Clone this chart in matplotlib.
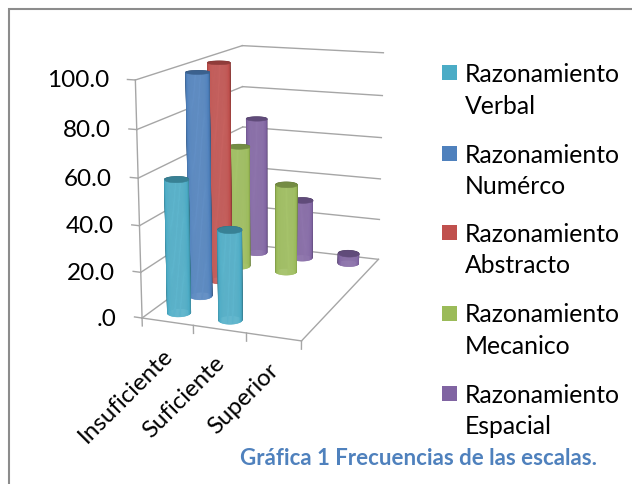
import numpy as np
import matplotlib
matplotlib.use("Agg")
import matplotlib.pyplot as plt
from matplotlib.patches import Rectangle
from mpl_toolkits.mplot3d import proj3d
from mpl_toolkits.mplot3d.art3d import Poly3DCollection

plt.rcParams['font.family'] = ['Lato', 'DejaVu Sans']

categories = ['Insuficiente', 'Suficiente', 'Superior']
series_names = ['Razonamiento\nVerbal', 'Razonamiento\nNumérco', 'Razonamiento\nAbstracto',
                'Razonamiento\nMecanico', 'Razonamiento\nEspacial']
colors = ['#4BACC6', '#4F81BD', '#C0504D', '#9BBB59', '#8064A2']
verbal = [58, 39, 0]
numerico = [99, 0, 0]
abstracto = [100, 0, 0]
mecanico = [58, 42, 0]
espacial = [67, 29, 5]
z_ticks = [0, 20, 40, 60, 80, 100]
z_labels = ['.0', '20.0', '40.0', '60.0', '80.0', '100.0']
caption = 'Gráfica 1 Frecuencias de las escalas.'

ELEV, AZIM = 14, -69
BOX = (159, 252, 226)
W, H = 632, 485


def shaded(color, amount):
    rgb = np.array(matplotlib.colors.to_rgb(color))
    if amount < 0:
        return tuple(rgb * (1 + amount))
    return tuple(rgb + (1 - rgb) * amount)


def cylinder(ax, x, y, h, color, zorder):
    rx = 0.21
    ry = rx * (BOX[0] / 3) / (BOX[1] / 5)
    th = np.linspace(0, 2 * np.pi, 61)
    view = np.radians(AZIM)
    verts, cols = [], []
    for a, b in zip(th[:-1], th[1:]):
        x0, y0 = x + rx * np.cos(a), y + ry * np.sin(a)
        x1, y1 = x + rx * np.cos(b), y + ry * np.sin(b)
        verts.append([(x0, y0, 0), (x1, y1, 0), (x1, y1, h), (x0, y0, h)])
        c = np.cos((a + b) / 2 - view)
        cols.append(shaded(color, 0.1 - 0.42 * (1 - max(c, 0)) ** 2))
    ax.add_collection3d(Poly3DCollection(verts, facecolors=cols, edgecolors=cols,
                                         linewidths=0.4, zorder=zorder))
    cap = [(x + rx * np.cos(a), y + ry * np.sin(a), h) for a in th]
    top = shaded(color, -0.25)
    ax.add_collection3d(Poly3DCollection([cap], facecolors=[top], edgecolors=[top],
                                         linewidths=0.4, zorder=zorder + 0.5))


fig = plt.figure(figsize=(W / 100, H / 100), dpi=100)
fig.add_artist(Rectangle((9 / W, -0.02), (W + 20) / W, 1 - 10 / H + 0.02, transform=fig.transFigure,
                         fill=False, edgecolor='#8c8c8c', linewidth=1.5))

ax = fig.add_axes([81 / W, (H - 367.5) / H, 366 / W, 366 / H], projection='3d', computed_zorder=False)
ax.set_proj_type('persp', focal_length=0.585)
ax.view_init(elev=ELEV, azim=AZIM)
ax.set_box_aspect(BOX, zoom=1.0)
ax.set_xlim(0, 3)
ax.set_ylim(0, 5)
ax.set_zlim(0, 100)
ax.set_axis_off()
ax.patch.set_alpha(0)
ax.apply_aspect()
proj = ax.get_proj()


def label(x, y, z, text, offset, **kw):
    px, py, _ = proj3d.proj_transform(x, y, z, proj)
    ax.annotate(text, xy=(px, py), xycoords='data', xytext=offset, textcoords='offset pixels',
                annotation_clip=False, color='black', **kw)


line = dict(color='#a6a6a6', linewidth=1.0, zorder=1)
ax.plot([0, 3], [0, 0], [0, 0], **line)
ax.plot([3, 3], [0, 5], [0, 0], **line)
ax.plot([0, 0], [0, 0], [0, 100], **line)
for t, lab in zip(z_ticks, z_labels):
    ax.plot([0, 0], [0, 5], [t, t], **line)
    ax.plot([0, 3], [5, 5], [t, t], **line)
    ax.plot([-0.15, 0], [0, 0], [t, t], **line)
    label(0, 0, t, lab, (-26, 0), ha='right', va='center', fontsize=17.5)
for i in range(len(categories) + 1):
    ax.plot([i, i], [0, 0], [0, -3.5], **line)
for i, name in enumerate(categories):
    label(i + 0.5, 0, 0, name, (-6, -22), rotation=45, rotation_mode='anchor', ha='right', va='top',
          fontsize=17.3)

rows = [verbal, numerico, abstracto, mecanico, espacial]
for r, (vals, col) in enumerate(zip(rows, colors)):
    for c, v in enumerate(vals):
        if v > 0:
            cylinder(ax, c + 0.5, r + 0.5, v, col, zorder=10 + (5 - r) * 10 + (3 - c))

swatch_y = [73, 154, 233, 314, 394]
text_y = [90.5, 171, 250, 330.5, 411]
for sy, ty, name, col in zip(swatch_y, text_y, series_names, colors):
    fig.add_artist(Rectangle((442 / W, 1 - (sy + 7.5) / H), 15 / W, 15 / H, transform=fig.transFigure,
                             facecolor=col, edgecolor='none'))
    fig.text(465 / W, 1 - ty / H, name, fontsize=17.8, va='center', ha='left', linespacing=1.45)

fig.text(418 / W, 1 - 459 / H, caption, fontsize=16, fontweight='bold', color='#4F81BD',
         ha='center', va='center')

fig.savefig('out.png', dpi=100)
